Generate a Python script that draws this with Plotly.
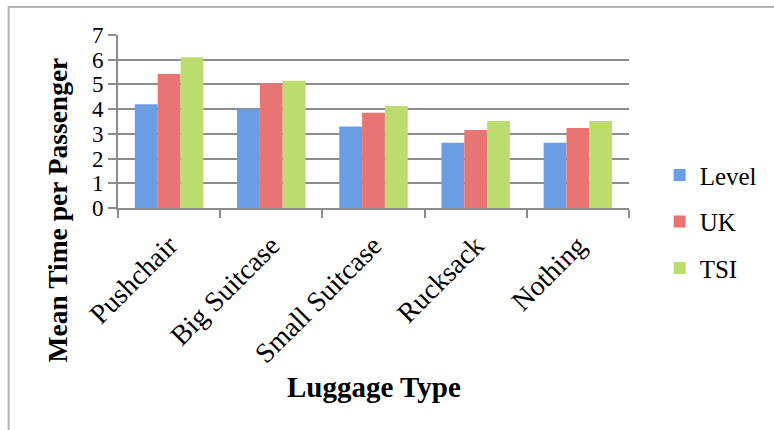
import plotly.graph_objects as go

# Mean boarding time per passenger by luggage type
categories = ["Pushchair", "Big Suitcase", "Small Suitcase", "Rucksack", "Nothing"]
level = [4.2, 4.0, 3.3, 2.64, 2.64]
uk = [5.42, 5.05, 3.85, 3.16, 3.24]
tsi = [6.1, 5.15, 4.13, 3.52, 3.52]

series = [
    ("Level", level, "#6a9de3"),
    ("UK", uk, "#e87474"),
    ("TSI", tsi, "#bcdc70"),
]

SERIF = "Liberation Serif"
GRID = "#8c8c8c"

fig = go.Figure()
for name, vals, color in series:
    fig.add_trace(go.Bar(
        name=name, x=categories, y=vals,
        marker=dict(color=color, line=dict(width=0)),
        legendgroup=name,
    ))

fig.update_layout(
    width=774, height=430,
    margin=dict(l=118, r=139, t=35, b=222),
    paper_bgcolor="white", plot_bgcolor="white",
    barmode="group", bargap=0.33, bargroupgap=0,
    font=dict(family=SERIF, color="black"),
    legend=dict(
        x=1.06, y=-0.08, yanchor="middle", xanchor="left",
        font=dict(size=25, family=SERIF, color="black"),
        tracegroupgap=11, itemwidth=30,
    ),
    xaxis=dict(
        type="category", tickangle=-45,
        tickfont=dict(size=28, family=SERIF),
        ticklabelstandoff=8,
        showline=True, linecolor=GRID, linewidth=2,
        ticks="outside", ticklen=8, tickcolor=GRID, tickwidth=2,
        tickson="boundaries", showgrid=False,
    ),
    yaxis=dict(
        range=[0, 7], dtick=1,
        tickfont=dict(size=23, family=SERIF),
        showline=True, linecolor=GRID, linewidth=2,
        ticks="outside", ticklen=8, tickcolor=GRID, tickwidth=2,
        showgrid=True, gridcolor=GRID, gridwidth=2,
        zeroline=False,
    ),
    annotations=[
        dict(text="<b>Mean Time per Passenger</b>", textangle=-90,
             xref="paper", yref="paper", x=-0.118, y=-0.01,
             xanchor="center", yanchor="middle", showarrow=False,
             font=dict(size=27.5, family=SERIF)),
        dict(text="<b>Luggage Type</b>",
             xref="paper", yref="paper", x=0.5, y=-1.035,
             xanchor="center", yanchor="middle", showarrow=False,
             font=dict(size=29, family=SERIF)),
    ],
    shapes=[
        dict(type="rect", xref="paper", yref="paper",
             x0=-0.214, x1=1.3, y0=-1.4, y1=1.162,
             line=dict(color="#b4b4b4", width=2), layer="below"),
    ],
)

fig.write_html("out.html")
